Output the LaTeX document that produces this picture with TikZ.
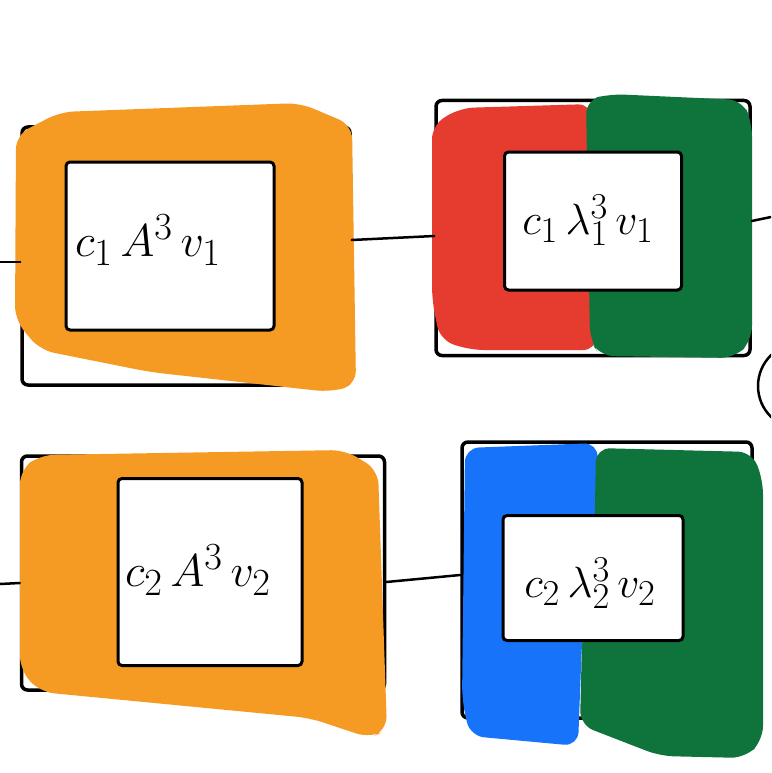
\documentclass[tikz,border=0pt]{standalone}
\usetikzlibrary{positioning}

\definecolor{markerorange}{RGB}{245,155,35}
\definecolor{markerred}{RGB}{230,60,48}
\definecolor{markergreen}{RGB}{15,115,60}
\definecolor{markerblue}{RGB}{23,115,250}

\begin{document}
\begin{tikzpicture}
  [x=1pt,y=-1pt,
  frame/.style={draw=black,line width=3.5pt,rounded corners=6pt,inner sep=0pt},
  window/.style={draw=black,fill=white,line width=3pt,rounded corners=4pt,inner sep=0pt},
  term/.style={inner sep=0pt,font=\Huge,scale=1.85},
  wire/.style={draw=black,line width=2.5pt,line cap=round},
  marker/.style={rounded corners=14pt}]
  \useasboundingbox (0,0) rectangle (771,773);
  \clip (0,0) rectangle (771,773);
  \fill[white] (0,0) rectangle (771,773);

  % top left block
  \node[frame,minimum width=328pt,minimum height=258pt] (frame11) at (186,256) {};
  \fill[markerorange,marker] (16,135) -- (60,112) -- (300,103) -- (352,125) -- (356,385)
    -- (330,392) -- (150,372) -- (40,350) -- (15,320) -- cycle;
  \node[window,minimum width=208pt,minimum height=168pt] (window11) at (170,246) {};
  \node[term] (term11) at (148,240) {$c_1\,A^3\,v_1$};

  % top right block
  \node[frame,minimum width=314pt,minimum height=255pt] (frame12) at (593,228) {};
  \fill[markerred,marker] (432,125) -- (460,108) -- (592,104) -- (597,350) -- (470,350)
    -- (440,340) -- (432,300) -- cycle;
  \fill[markergreen,marker] (586,100) -- (610,94) -- (742,100) -- (752,122) -- (752,340)
    -- (735,358) -- (600,356) -- (590,340) -- cycle;
  \node[window,minimum width=177pt,minimum height=138pt] (window12) at (593,221) {};
  \node[term,scale=0.95] (term12) at (588,220) {$c_1\,\lambda_1^3\,v_1$};

  % bottom left block
  \node[frame,minimum width=363pt,minimum height=234pt] (frame21) at (203,573) {};
  \fill[markerorange,marker] (20,470) -- (40,455) -- (345,450) -- (378,470) -- (387,730)
    -- (370,738) -- (310,718) -- (40,692) -- (20,670) -- cycle;
  \node[window,minimum width=184pt,minimum height=187pt] (window21) at (210,572) {};
  \node[term] (term21) at (198,570) {$c_2\,A^3\,v_2$};

  % bottom right block
  \node[frame,minimum width=290pt,minimum height=276pt] (frame22) at (607,580) {};
  \fill[markerblue,marker] (465,448) -- (598,443) -- (595,560) -- (582,640) -- (578,746)
    -- (470,736) -- (462,700) -- cycle;
  \fill[markergreen,marker] (596,448) -- (752,452) -- (763,480) -- (763,740) -- (745,758)
    -- (660,756) -- (580,725) -- (582,640) -- (594,560) -- cycle;
  \node[window,minimum width=180pt,minimum height=125pt] (window22) at (593,578) {};
  \node[term,scale=0.95] (term22) at (590,583) {$c_2\,\lambda_2^3\,v_2$};

  % next stage, cut off at the edge
  \node[draw=black,line width=2.5pt,circle,minimum size=86pt] (stage13) at (801,386) {};

  % connectors
  \coordinate (in11) at (0,262);
  \coordinate (out12) at (771,217);
  \coordinate (in21) at (0,584);
  \draw[wire] (in11) -- ([yshift=-6pt]frame11.west);
  \draw[wire] ([yshift=16pt]frame11.east) -- ([yshift=-8pt]frame12.west);
  \draw[wire] ([yshift=7pt]frame12.east) -- (out12);
  \draw[wire] (in21) -- ([yshift=-10pt]frame21.west);
  \draw[wire] ([yshift=-9pt]frame21.east) -- ([yshift=5pt]frame22.west);
\end{tikzpicture}
\end{document}
